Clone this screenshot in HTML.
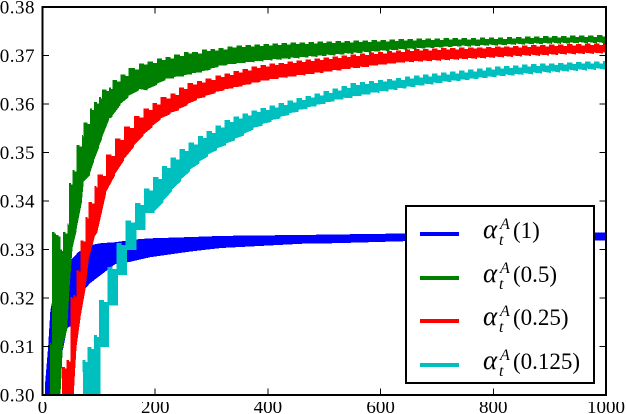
<!DOCTYPE html>
<html lang="en">
<head>
<meta charset="utf-8">
<title>Alpha chart</title>
<style>
html,body{margin:0;padding:0;background:#fff;width:626px;height:414px;overflow:hidden}
body{position:relative}
svg{display:block}
text{font-family:"Liberation Serif",serif;fill:#000}
.x-label{position:absolute;top:402px;width:40px;height:12px;line-height:12px;overflow:hidden;text-align:center;font-family:"Liberation Serif",serif;font-size:19px;color:#000;white-space:nowrap}
</style>
</head>
<body>
<svg id="chart" xmlns="http://www.w3.org/2000/svg" width="626" height="414" viewBox="0 0 626 414">
  <defs><clipPath id="plot-clip"><rect x="42.5" y="7" width="563.5" height="388"/></clipPath></defs>
  <rect x="0" y="0" width="626" height="414" fill="#fff"/>
  <g id="series" clip-path="url(#plot-clip)" shape-rendering="crispEdges"></g>
  <g id="ticks" shape-rendering="crispEdges"></g>
  <rect x="42.5" y="7" width="563.5" height="388" fill="none" stroke="#000" stroke-width="2" shape-rendering="crispEdges"/>
  <g id="labels"></g>
  <g>
    <rect x="406" y="206" width="188" height="177" fill="#fff" stroke="#000" stroke-width="2" shape-rendering="crispEdges"/>
    <g>
      <rect x="420" y="232" width="39" height="4" fill="#0000ff"/>
      <text y="238" font-size="23"><tspan x="483" font-size="27" font-style="italic">α</tspan><tspan x="500" y="229" font-size="16" font-style="italic">A</tspan><tspan x="499" y="245" font-size="16" font-style="italic">t</tspan><tspan x="513" y="238">(1)</tspan></text>
    </g>
    <g>
      <rect x="420" y="276" width="39" height="4" fill="#008000"/>
      <text y="282" font-size="23"><tspan x="483" font-size="27" font-style="italic">α</tspan><tspan x="500" y="273" font-size="16" font-style="italic">A</tspan><tspan x="499" y="289" font-size="16" font-style="italic">t</tspan><tspan x="513" y="282">(0.5)</tspan></text>
    </g>
    <g>
      <rect x="420" y="319" width="39" height="4" fill="#ff0000"/>
      <text y="325" font-size="23"><tspan x="483" font-size="27" font-style="italic">α</tspan><tspan x="500" y="316" font-size="16" font-style="italic">A</tspan><tspan x="499" y="332" font-size="16" font-style="italic">t</tspan><tspan x="513" y="325">(0.25)</tspan></text>
    </g>
    <g>
      <rect x="420" y="363" width="39" height="4" fill="#00bfbf"/>
      <text y="369" font-size="23"><tspan x="483" font-size="27" font-style="italic">α</tspan><tspan x="500" y="360" font-size="16" font-style="italic">A</tspan><tspan x="499" y="376" font-size="16" font-style="italic">t</tspan><tspan x="513" y="369">(0.125)</tspan></text>
    </g>
  </g>
</svg>
<script>
const xTickValues = [0, 200, 400, 600, 800, 1000];
const yTickValues = [0.30, 0.31, 0.32, 0.33, 0.34, 0.35, 0.36, 0.37, 0.38];
const xTickLabels = ['0', '200', '400', '600', '800', '1000'];
const yTickLabels = ['0.30', '0.31', '0.32', '0.33', '0.34', '0.35', '0.36', '0.37', '0.38'];

const blueX = [4,10,14,23,32,35,44,50,53,64,73,85,103,129,153,168,191,245,271,316,381,463,520,640,1000];
const blueHigh = [.3016,.3099,.3175,.3227,.3253,.3262,.3272,.3278,.3282,.3295,.3301,.3309,.3313,.3315,.3319,.3321,.3323,.3325,.3326,.3328,.3329,.3330,.3331,.3333,.3335];
const blueLow = [.2900,.2900,.2950,.3021,.3062,.3087,.3138,.3142,.3148,.3179,.3216,.3231,.3247,.3270,.3274,.3278,.3284,.3293,.3297,.3303,.3307,.3312,.3313,.3317,.3319];

const greenX = [13,17,24,32,36,44,47,53,60,70,73,84,91,100,106,118,124,138,153,171,186,203,218,233,251,265,283,298,312,
  328,344,360,376,392,408,424,440,456,472,488,504,520,536,552,568,584,600,616,632,648,664,680,696,712,728,744,760,776,792,808,824,840,856,872,888,904,920,936,952,968,984,1000];
const greenHigh = [.3107,.3336,.3330,.3300,.3336,.3354,.3437,.3464,.3515,.3536,.3562,.3591,.3604,.3614,.3630,.3634,.3649,.3661,.3674,.3684,.3688,.3694,.3697,.3702,.3707,.3707,.3712,.3713,.3715,
  .3719,.3721,.3722,.3723,.3724,.3725,.3726,.3727,.3727,.3728,.3729,.3729,.3730,.3730,.3731,.3731,.3732,.3732,.3733,.3734,.3734,.3735,.3735,.3735,.3736,.3736,.3736,.3736,.3737,.3737,.3737,.3738,.3738,.3739,.3739,.3740,.3740,.3740,.3741,.3741,.3741,.3742,.3742];
const greenLow = [.2900,.2950,.3000,.3099,.3136,.3202,.3299,.3336,.3398,.3437,.3453,.3480,.3509,.3529,.3567,.3573,.3597,.3614,.3628,.3628,.3639,.3649,.3653,.3657,.3661,.3665,.3670,.3676,.3680,
  .3682,.3684,.3686,.3688,.3690,.3691,.3693,.3694,.3696,.3697,.3699,.3700,.3702,.3703,.3705,.3706,.3708,.3709,.3711,.3712,.3713,.3714,.3715,.3716,.3717,.3718,.3718,.3719,.3720,.3720,.3721,.3722,.3722,.3723,.3723,.3724,.3724,.3724,.3725,.3725,.3725,.3725,.3726];

const redX = [35,43,50,55,60,67,76,82,92,98,113,129,145,162,179,195,209,227,242,257,274,289,307,
  323,339,355,371,387,403,419,435,451,467,483,499,515,531,547,563,579,595,611,627,643,659,675,691,707,723,739,755,771,787,803,819,835,851,867,883,899,915,931,947,963,979,995,1000];
const redHigh = [.3058,.3072,.3202,.3206,.3258,.3319,.3367,.3398,.3431,.3455,.3496,.3529,.3554,.3575,.3591,.3602,.3614,.3622,.3634,.3643,.3647,.3653,.3659,
  .3663,.3668,.3672,.3677,.3680,.3683,.3685,.3688,.3690,.3692,.3694,.3696,.3698,.3700,.3702,.3704,.3706,.3707,.3709,.3710,.3712,.3713,.3713,.3714,.3715,.3715,.3716,.3717,.3717,.3718,.3719,.3719,.3720,.3721,.3722,.3722,.3723,.3723,.3724,.3724,.3725,.3725,.3726,.3726];
const redLow = [.2900,.2900,.2990,.3093,.3155,.3216,.3278,.3323,.3336,.3416,.3453,.3484,.3511,.3534,.3552,.3567,.3579,.3587,.3597,.3608,.3614,.3622,.3628,
  .3632,.3636,.3641,.3645,.3648,.3652,.3654,.3657,.3659,.3662,.3664,.3667,.3669,.3672,.3674,.3676,.3679,.3681,.3683,.3685,.3686,.3687,.3688,.3689,.3690,.3691,.3692,.3693,.3694,.3695,.3696,.3697,.3698,.3699,.3699,.3700,.3701,.3702,.3702,.3703,.3703,.3704,.3705,.3705];

const cyanX = [71,80,91,100,115,131,147,164,180,196,212,227,243,259,276,291,307,
  323,339,355,371,387,403,419,435,451,467,483,499,515,531,547,563,579,595,611,627,643,659,675,691,707,723,739,755,771,787,803,819,835,851,867,883,899,915,931,947,963,979,995,1000];
const cyanHigh = [.3072,.3099,.3124,.3196,.3264,.3313,.3360,.3396,.3426,.3449,.3472,.3490,.3507,.3521,.3534,.3544,.3556,
  .3567,.3574,.3580,.3587,.3592,.3597,.3602,.3607,.3612,.3617,.3622,.3627,.3632,.3637,.3643,.3645,.3647,.3650,.3652,.3654,.3657,.3659,.3661,.3663,.3665,.3667,.3669,.3671,.3673,.3675,.3677,.3678,.3679,.3681,.3682,.3683,.3684,.3685,.3686,.3687,.3688,.3688,.3689,.3690];
const cyanLow = [.2900,.2900,.2990,.3099,.3185,.3247,.3299,.3340,.3375,.3398,.3420,.3441,.3461,.3478,.3492,.3505,.3515,
  .3525,.3535,.3547,.3555,.3563,.3570,.3577,.3584,.3590,.3595,.3600,.3605,.3609,.3612,.3616,.3620,.3623,.3626,.3629,.3632,.3635,.3638,.3640,.3643,.3645,.3647,.3649,.3651,.3653,.3655,.3657,.3658,.3660,.3661,.3663,.3664,.3665,.3667,.3668,.3669,.3670,.3671,.3672,.3672];

const NS = 'http://www.w3.org/2000/svg';
function xScale(v) { return 42.5 + (v / 1000) * 563.5; }
function yScale(v) { return 395 - ((v - 0.30) / 0.08) * 388; }

function smoothBand(xs, hi, lo) {
  const pts = [];
  for (let i = 0; i < xs.length; i++) pts.push([xScale(xs[i]), yScale(hi[i])]);
  for (let i = xs.length - 1; i >= 0; i--) pts.push([xScale(xs[i]), yScale(lo[i])]);
  return pts;
}
function toothBand(xs, hi, lo, depth, shift, flatCount) {
  const pts = [];
  const n = xs.length;
  for (let i = 0; i < n; i++) {
    pts.push([xScale(xs[i]), yScale(hi[i])]);
    if (i < n - 1) {
      const mid = xs[i] + (xs[i + 1] - xs[i]) * 0.6;
      pts.push([xScale(mid), yScale(hi[i])]);
      pts.push([xScale(mid), yScale(hi[i] - depth)]);
      pts.push([xScale(xs[i + 1]), yScale(hi[i] - depth)]);
    }
  }
  for (let i = n - 1; i >= 0; i--) {
    const end = i < n - 1 ? xs[i + 1] + shift : xs[i] + shift;
    pts.push([xScale(end), yScale(lo[i])]);
    const startValue = (i < flatCount || i === 0) ? lo[i] : lo[i - 1] + depth;
    pts.push([xScale(xs[i] + shift), yScale(startValue)]);
  }
  return pts;
}
function toPoints(pts) {
  return pts.map(function (p) { return p[0].toFixed(2) + ',' + p[1].toFixed(2); }).join(' ');
}

const seriesGroup = document.getElementById('series');

const blueBand = document.createElementNS(NS, 'polygon');


blueBand.setAttribute('fill', '#0000ff');
blueBand.setAttribute('points', toPoints(smoothBand(blueX, blueHigh, blueLow)));
seriesGroup.appendChild(blueBand);

const greenBand = document.createElementNS(NS, 'polygon');


greenBand.setAttribute('fill', '#008000');
greenBand.setAttribute('points', toPoints(toothBand(greenX, greenHigh, greenLow, 0.0003, 0, 0)));
seriesGroup.appendChild(greenBand);

const redBand = document.createElementNS(NS, 'polygon');


redBand.setAttribute('fill', '#ff0000');
redBand.setAttribute('points', toPoints(toothBand(redX, redHigh, redLow, 0.0003, 0, 0)));
seriesGroup.appendChild(redBand);

const cyanBand = document.createElementNS(NS, 'polygon');


cyanBand.setAttribute('fill', '#00bfbf');
cyanBand.setAttribute('points', toPoints(toothBand(cyanX, cyanHigh, cyanLow, 0.0004, 3, 9)));
seriesGroup.appendChild(cyanBand);

const tickGroup = document.getElementById('ticks');
const labelGroup = document.getElementById('labels');

function addTick(x1, y1, x2, y2) {
  const t = document.createElementNS(NS, 'line');
  
  
  t.setAttribute('x1', x1);
  t.setAttribute('y1', y1);
  t.setAttribute('x2', x2);
  t.setAttribute('y2', y2);
  t.setAttribute('stroke', '#000');
  t.setAttribute('stroke-width', '1');
  tickGroup.appendChild(t);
}

xTickValues.forEach(function (v, i) {
  const x = xScale(v);
  addTick(x, 395, x, 388.5);
  addTick(x, 7, x, 13.5);
  const label = document.createElement('div');
  
  
  label.className = 'x-label';
  label.style.left = (x - 20) + 'px';
  label.textContent = xTickLabels[i];
  document.body.appendChild(label);
});

yTickValues.forEach(function (v, i) {
  const y = yScale(v);
  addTick(42.5, y, 49, y);
  addTick(606, y, 599.5, y);
  const label = document.createElementNS(NS, 'text');
  
  
  label.setAttribute('x', 35);
  label.setAttribute('y', y + 6.3);
  label.setAttribute('font-size', '19');
  label.setAttribute('letter-spacing', '0.5');
  label.setAttribute('text-anchor', 'end');
  label.textContent = yTickLabels[i];
  labelGroup.appendChild(label);
});
</script>
</body>
</html>
